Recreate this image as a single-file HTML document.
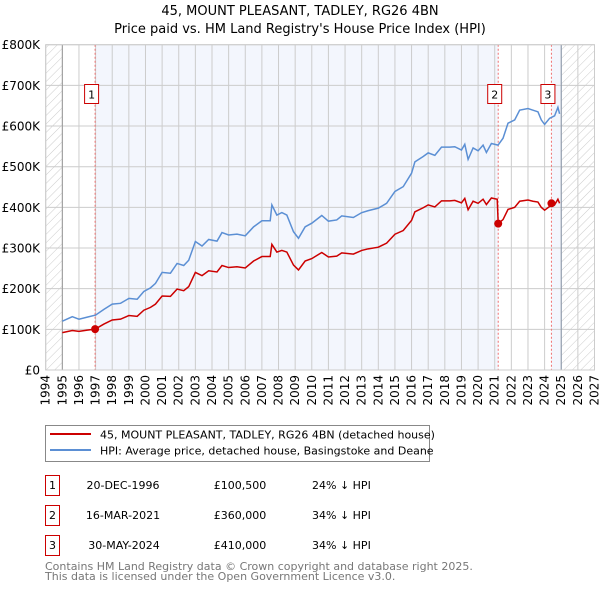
<!DOCTYPE html>
<html><head><meta charset="utf-8"><style>
body{margin:0;background:#fff;font-family:"DejaVu Sans","Liberation Sans",sans-serif;}
svg text{font-family:"DejaVu Sans","Liberation Sans",sans-serif;}
</style></head><body>
<svg id="chart" width="600" height="590" viewBox="0 0 600 590" xmlns="http://www.w3.org/2000/svg">
<defs><pattern id="hatch" width="6" height="6" patternUnits="userSpaceOnUse" patternTransform="rotate(45)"><line x1="0" y1="0" x2="0" y2="6" stroke="#ccc" stroke-width="1"/></pattern></defs>
<text x="300" y="15" text-anchor="middle" font-size="13" fill="#000">45, MOUNT PLEASANT, TADLEY, RG26 4BN</text>
<text x="300" y="33" text-anchor="middle" font-size="13" fill="#000">Price paid vs. HM Land Registry's House Price Index (HPI)</text>
<g id="plot"></g>
<g>
<rect x="45.5" y="425.5" width="384" height="36" fill="#fff" stroke="#888"/>
<line x1="50" y1="434" x2="91" y2="434" stroke="#cc0000" stroke-width="2"/>
<text x="100" y="438.5" font-size="11">45, MOUNT PLEASANT, TADLEY, RG26 4BN (detached house)</text>
<line x1="50" y1="450" x2="91" y2="450" stroke="#5b8fd4" stroke-width="2"/>
<text x="100" y="454.5" font-size="11">HPI: Average price, detached house, Basingstoke and Deane</text>
</g>
<g font-size="11">
<rect x="45.5" y="475.5" width="14" height="20" fill="#fff" stroke="#cc0000"/><text x="52.5" y="489" text-anchor="middle">1</text>
<text x="123" y="489" text-anchor="middle">20-DEC-1996</text><text x="240" y="489" text-anchor="middle">£100,500</text><text x="312" y="489">24% ↓ HPI</text>
<rect x="45.5" y="505.5" width="14" height="20" fill="#fff" stroke="#cc0000"/><text x="52.5" y="519" text-anchor="middle">2</text>
<text x="123" y="519" text-anchor="middle">16-MAR-2021</text><text x="240" y="519" text-anchor="middle">£360,000</text><text x="312" y="519">34% ↓ HPI</text>
<rect x="45.5" y="535.5" width="14" height="20" fill="#fff" stroke="#cc0000"/><text x="52.5" y="549" text-anchor="middle">3</text>
<text x="124" y="549" text-anchor="middle">30-MAY-2024</text><text x="240" y="549" text-anchor="middle">£410,000</text><text x="312" y="549">34% ↓ HPI</text>
</g>
<text x="45" y="570" font-size="11" fill="#777">Contains HM Land Registry data © Crown copyright and database right 2025.</text>
<text x="45" y="580" font-size="11" fill="#777">This data is licensed under the Open Government Licence v3.0.</text>
</svg>
<script>
const hpiYears=[1995,1995.6,1996,1996.5,1997,1997.5,1998,1998.5,1999,1999.5,1999.9,2000.3,2000.6,2001,2001.5,2001.9,2002.3,2002.6,2003,2003.4,2003.8,2004.3,2004.6,2005,2005.5,2006,2006.5,2007,2007.5,2007.6,2007.9,2008.2,2008.5,2008.9,2009.2,2009.6,2010,2010.6,2011,2011.5,2011.8,2012.5,2013,2013.4,2014,2014.5,2015,2015.5,2016,2016.2,2016.7,2017,2017.4,2017.8,2018.3,2018.6,2019,2019.2,2019.4,2019.7,2020,2020.3,2020.5,2020.8,2021.2,2021.5,2021.8,2022.2,2022.5,2023,2023.3,2023.6,2023.8,2024.0,2024.3,2024.6,2024.8,2024.9];
const hpiValues=[120,131,125,130,135,149,162,164,176,174,193,202,213,240,238,262,257,270,316,305,321,317,338,332,334,330,352,367,367,406,381,387,381,340,324,352,361,380,366,369,379,375,387,392,398,410,439,451,484,512,525,534,528,548,548,549,541,555,518,546,539,553,535,557,553,570,607,615,639,643,639,635,615,604,619,625,646,630];
const priceYears=[1995,1995.6,1996,1996.5,1996.97,1997.5,1998,1998.5,1999,1999.5,1999.9,2000.3,2000.6,2001,2001.5,2001.9,2002.3,2002.6,2003,2003.4,2003.8,2004.3,2004.6,2005,2005.5,2006,2006.5,2007,2007.5,2007.6,2007.9,2008.2,2008.5,2008.9,2009.2,2009.6,2010,2010.6,2011,2011.5,2011.8,2012.5,2013,2013.4,2014,2014.5,2015,2015.5,2016,2016.2,2016.7,2017,2017.4,2017.8,2018.3,2018.6,2019,2019.2,2019.4,2019.7,2020,2020.3,2020.5,2020.8,2021.15,2021.21,2021.5,2021.8,2022.2,2022.5,2023,2023.3,2023.6,2023.8,2024.0,2024.3,2024.41,2024.6,2024.8,2024.9];
const priceValues=[92,97,95,98,100.5,113,123,125,134,132,147,154,162,182,181,199,195,205,240,232,244,241,257,252,254,251,268,279,279,309,290,294,290,258,246,268,274,289,278,280,288,285,294,298,302,312,334,343,368,389,399,406,401,416,416,417,411,422,394,415,410,420,407,423,420,360,370,395,400,415,418,415,413,400,393,402,410,406,420,410];
const saleLabels=["1","2","3"];
const saleYears=[1996.97,2021.21,2024.41];
const saleValues=[100.5,360,410];
const yTicks=[0,100,200,300,400,500,600,700,800];
const yTickLabels=["£0","£100K","£200K","£300K","£400K","£500K","£600K","£700K","£800K"];
const xTicks=[];for(let y=1994;y<=2027;y++)xTicks.push(y);

const L=45.7,R=594.5,T=44.7,B=370;
const X=y=>L+(y-1994)*(R-L)/33;
const Y=v=>B-v*(B-T)/800;
const NS="http://www.w3.org/2000/svg";
const g=document.getElementById('plot');
function mk(t,a,p){const e=document.createElementNS(NS,t);for(const k in a)e.setAttribute(k,a[k]);(p||g).appendChild(e);return e;}

let e;
e=mk('rect',{x:X(1996.97),y:T,width:X(2021.21)-X(1996.97),height:B-T,fill:'#f3f6fd'});


e=mk('rect',{x:X(2024.41),y:T,width:X(2025)-X(2024.41),height:B-T,fill:'#f3f6fd'});


e=mk('rect',{x:L,y:T,width:X(1995)-L,height:B-T,fill:'url(#hatch)'});


e=mk('rect',{x:X(2025),y:T,width:R-X(2025),height:B-T,fill:'url(#hatch)'});



xTicks.forEach(t=>{
 e=mk('line',{x1:X(t),x2:X(t),y1:T,y2:B,stroke:'#ccc','stroke-width':1});
 
 
 e=mk('text',{x:0,y:0,'font-size':12,'text-anchor':'end',transform:`translate(${X(t)+4},375) rotate(-90)`});
 e.textContent=t;
 
 
});
yTicks.forEach((t,i)=>{
 e=mk('line',{x1:L,x2:R,y1:Y(t),y2:Y(t),stroke:'#ccc','stroke-width':1});
 
 
 e=mk('text',{x:40,y:Y(t)+4.5,'font-size':12,'text-anchor':'end'});
 e.textContent=yTickLabels[i];
 
 
});
e=mk('line',{x1:X(1995),x2:X(1995),y1:T,y2:B,stroke:'#999'});


e=mk('line',{x1:X(2025),x2:X(2025),y1:T,y2:B,stroke:'#8894a8'});



saleYears.forEach((s,i)=>{
 e=mk('line',{x1:X(s),x2:X(s),y1:T,y2:B,stroke:'#f07070','stroke-dasharray':'2,2'});
 
 
});

e=mk('polyline',{points:hpiYears.map((y,i)=>X(y)+','+Y(hpiValues[i])).join(' '),fill:'none',stroke:'#5b8fd4','stroke-width':1.5});


e=mk('polyline',{points:priceYears.map((y,i)=>X(y)+','+Y(priceValues[i])).join(' '),fill:'none',stroke:'#cc0000','stroke-width':1.5});



saleYears.forEach((s,i)=>{
 e=mk('circle',{cx:X(s),cy:Y(saleValues[i]),r:4,fill:'#cc0000'});
 
 
 e=mk('rect',{x:X(s)-10.5,y:84.5,width:14,height:19,fill:'#fff',stroke:'#cc0000'});
 
 
 e=mk('text',{x:X(s)-3.5,y:98.5,'font-size':11,'text-anchor':'middle'});
 e.textContent=saleLabels[i];
 
 
});
e=mk('rect',{x:L,y:T,width:R-L,height:B-T,fill:'none',stroke:'#ccc'});


</script>
</body></html>
